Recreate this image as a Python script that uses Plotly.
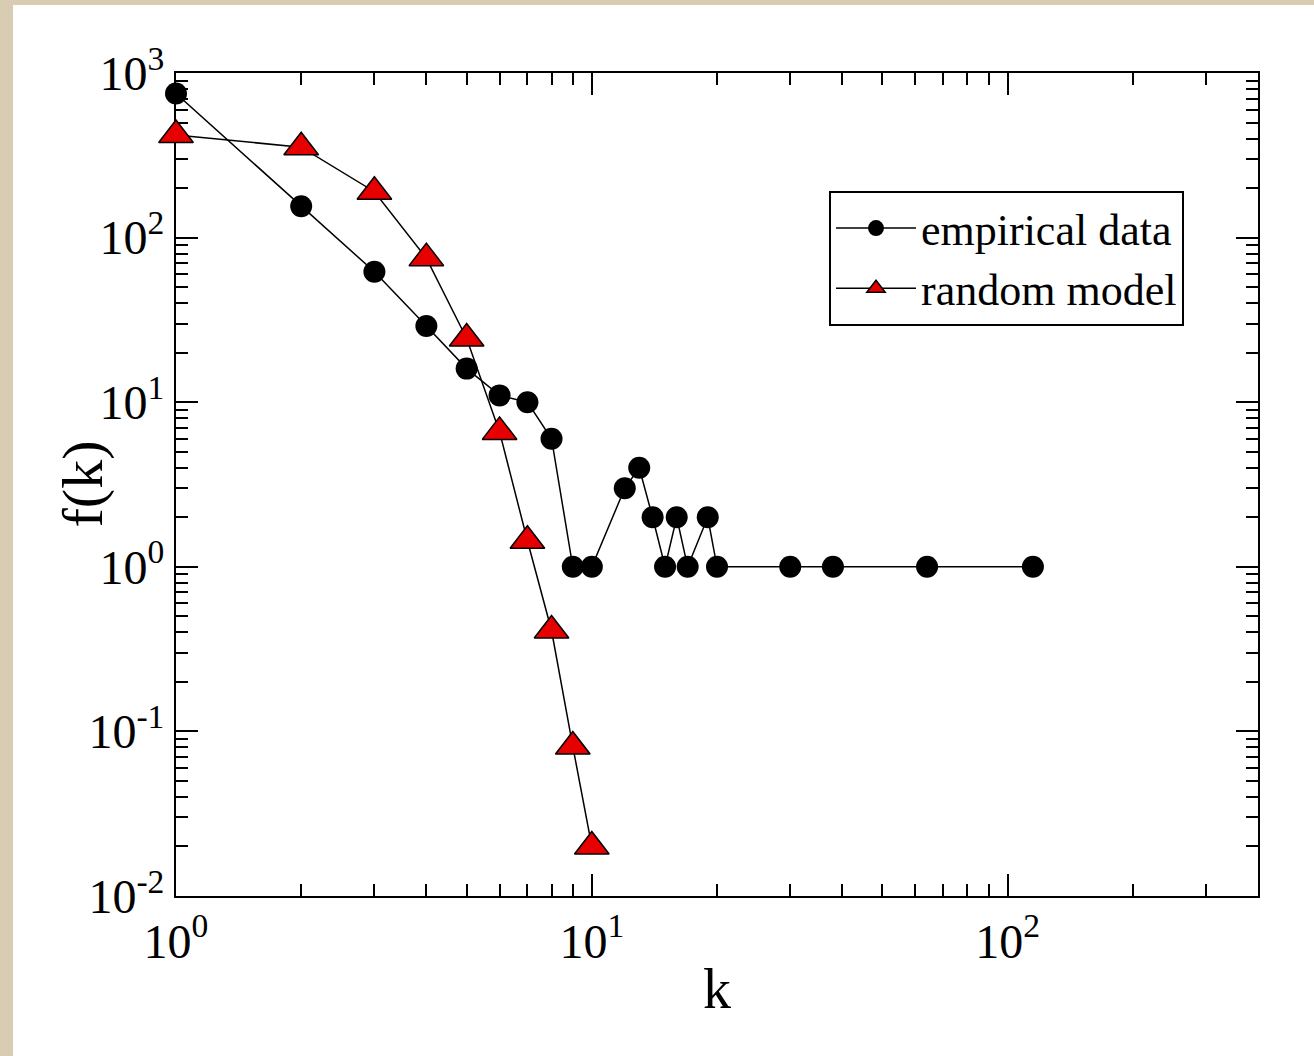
import plotly.graph_objects as go

# ---- data ----
emp_k = [1, 2, 3, 4, 5, 6, 7, 8, 9, 10, 12, 13, 14, 15, 16, 17, 19, 20, 30, 38, 64, 115]
emp_f = [750, 155, 62, 29, 16, 11, 10, 6, 1, 1, 3, 4, 2, 1, 2, 1, 2, 1, 1, 1, 1, 1]

rnd_k = [1, 2, 3, 4, 5, 6, 7, 8, 9, 10]
rnd_f = [420, 354, 190, 75, 24.4, 6.6, 1.44, 0.41, 0.081, 0.020]

x_tickvals = [1, 10, 100]
x_ticktext = ["10<sup>0</sup>", "10<sup>1</sup>", "10<sup>2</sup>"]
y_tickvals = [0.01, 0.1, 1, 10, 100, 1000]
y_ticktext = ["10<sup>-2</sup>", "10<sup>-1</sup>", "10<sup>0</sup>",
              "10<sup>1</sup>", "10<sup>2</sup>", "10<sup>3</sup>"]

W, H = 1314, 1056
ML, MR, MT, MB = 176, 56, 73, 160
PW, PH = W - ML - MR, H - MT - MB
FONT = "Liberation Serif, Times New Roman, serif"
BEIGE = "#d8cdb2"

fig = go.Figure()
fig.add_trace(go.Scatter(
    x=emp_k, y=emp_f, mode="lines+markers", name="empirical data",
    line=dict(color="black", width=1.5),
    marker=dict(symbol="circle", size=22, color="black"),
    cliponaxis=False,
))
fig.add_trace(go.Scatter(
    x=rnd_k, y=rnd_f, mode="lines+markers", name="random model",
    line=dict(color="black", width=1.5),
    marker=dict(symbol="triangle-up", size=30, color="#e60000",
                line=dict(color="black", width=1.5)),
    cliponaxis=False,
))

def px2paper_x(px):
    return (px - ML) / PW

def py2paper_y(py):
    return (H - MB - py) / PH

# beige frame strips (top and left) of the page
shapes = [
    dict(type="rect", xref="paper", yref="paper", layer="below",
         x0=px2paper_x(0), x1=px2paper_x(W), y0=py2paper_y(5), y1=py2paper_y(0),
         fillcolor=BEIGE, line=dict(width=0)),
    dict(type="rect", xref="paper", yref="paper", layer="below",
         x0=px2paper_x(0), x1=px2paper_x(13), y0=py2paper_y(H), y1=py2paper_y(0),
         fillcolor=BEIGE, line=dict(width=0)),
]

axis_common = dict(
    type="log", showgrid=False, zeroline=False,
    showline=True, linecolor="black", linewidth=2, mirror="allticks",
    ticks="inside", ticklen=22, tickwidth=2, tickcolor="black",
    tickfont=dict(family=FONT, size=48, color="black"),
    minor=dict(ticks="inside", ticklen=12, tickwidth=2, tickcolor="black",
               dtick="D1", showgrid=False),
    layer="below traces",
)

fig.update_layout(
    width=W, height=H,
    margin=dict(l=ML, r=MR, t=MT, b=MB),
    paper_bgcolor="white", plot_bgcolor="white",
    font=dict(family=FONT, color="black"),
    shapes=shapes,
    showlegend=True,
    legend=dict(
        x=px2paper_x(829), y=py2paper_y(191), xanchor="left", yanchor="top",
        bgcolor="white", bordercolor="black", borderwidth=2,
        font=dict(family=FONT, size=44, color="black"),
        tracegroupgap=0, itemwidth=80,
    ),
    xaxis=dict(
        **axis_common,
        range=[0, 2.602],
        tickmode="array", tickvals=x_tickvals, ticktext=x_ticktext,
        ticklabelstandoff=2,
        title=dict(text="k", font=dict(family=FONT, size=56, color="black"), standoff=2),
    ),
    yaxis=dict(
        **axis_common,
        range=[-2, 3],
        tickmode="array", tickvals=y_tickvals, ticktext=y_ticktext,
    ),
    annotations=[
        dict(text="f(k)", xref="paper", yref="paper",
             x=px2paper_x(82), y=0.5, xanchor="center", yanchor="middle",
             textangle=-90, showarrow=False,
             font=dict(family=FONT, size=58, color="black")),
    ],
)

fig.write_html("out.html")
